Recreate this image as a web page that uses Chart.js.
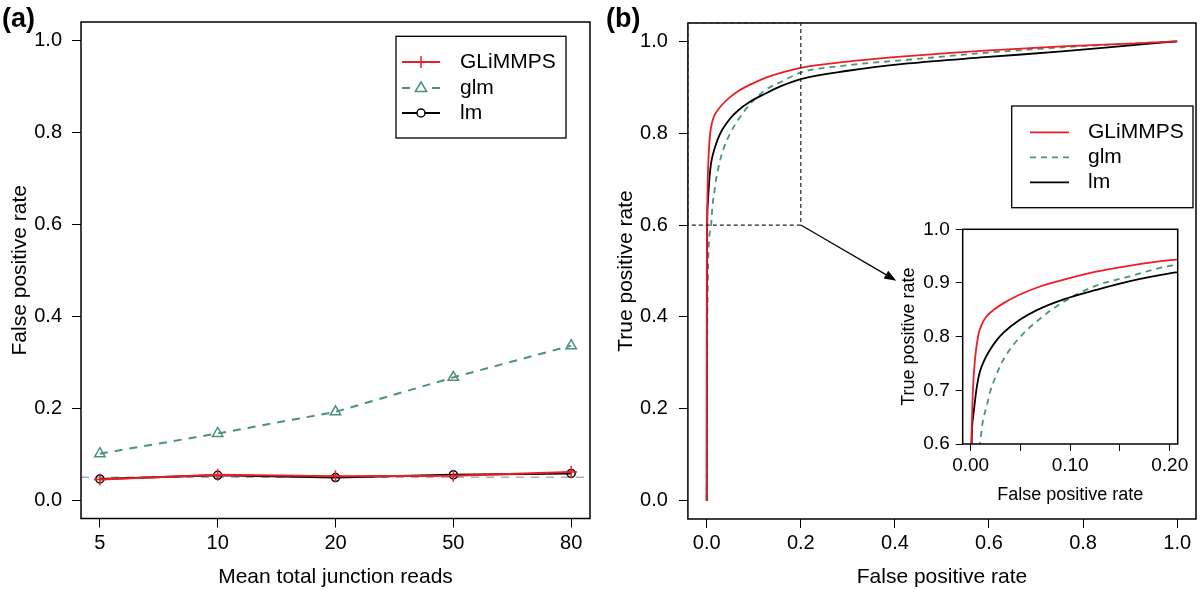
<!DOCTYPE html>
<html>
<head>
<meta charset="utf-8">
<script src="https://cdn.jsdelivr.net/npm/chart.js@4.4.1/dist/chart.umd.min.js"></script>
<style>
body { margin:0; width:1200px; height:590px; background:#fff; overflow:hidden; position:relative; font-family:"Liberation Sans", Arial, sans-serif; }
canvas { position:absolute; }
.panel { position:absolute; z-index:5; font-weight:bold; font-size:27px; line-height:1; color:#000; }
</style>
</head>
<body>
<div class="panel" style="left:2px;top:5px">(a)</div>
<div class="panel" style="left:606px;top:5px">(b)</div>
<canvas id="chart-a" width="600" height="590" style="left:0;top:0"></canvas>
<canvas id="chart-b" width="600" height="590" style="left:600px;top:0"></canvas>
<canvas id="chart-inset" width="320" height="305" style="left:880px;top:205px"></canvas>
<script>

// panel (a): false positive rate by read depth
var readsLabels = ['5', '10', '20', '50', '80'];
var readsPos = [1, 2, 3, 4, 5];
var fprGlimmps = [0.045, 0.055, 0.052, 0.053, 0.061];
var fprGlm = [0.101, 0.145, 0.192, 0.267, 0.336];
var fprLm = [0.046, 0.054, 0.049, 0.055, 0.058];
var nominalLevel = 0.05;

// panel (b): ROC curves (false positive rate, true positive rate)
var rocGlimmpsFpr = [0, 0.0002, 0.0006, 0.002, 0.0043, 0.0077, 0.011, 0.016, 0.024, 0.0327, 0.049, 0.069, 0.0993, 0.126, 0.159, 0.2, 0.3, 0.428, 0.591, 0.755, 0.9, 1.0];
var rocGlimmpsTpr = [0, 0.5, 0.6, 0.69, 0.757, 0.803, 0.822, 0.838, 0.851, 0.862, 0.878, 0.893, 0.909, 0.921, 0.932, 0.9425, 0.956, 0.968, 0.98, 0.989, 0.995, 1.0];
var rocGlmFpr = [0, 0.001, 0.002, 0.004, 0.0093, 0.012, 0.016, 0.02, 0.0247, 0.03, 0.036, 0.049, 0.066, 0.0927, 0.126, 0.159, 0.2, 0.3, 0.428, 0.591, 0.755, 0.9, 1.0];
var rocGlmTpr = [0, 0.35, 0.45, 0.55, 0.6, 0.64, 0.67, 0.7, 0.724, 0.747, 0.767, 0.798, 0.828, 0.864, 0.895, 0.912, 0.932, 0.948, 0.96, 0.975, 0.987, 0.995, 1.0];
var rocLmFpr = [0, 0.0003, 0.001, 0.0025, 0.0043, 0.0065, 0.0093, 0.014, 0.0193, 0.026, 0.0327, 0.049, 0.066, 0.0927, 0.126, 0.159, 0.2, 0.3, 0.428, 0.591, 0.755, 0.918, 1.0];
var rocLmTpr = [0, 0.4, 0.6, 0.65, 0.68, 0.71, 0.735, 0.757, 0.775, 0.793, 0.807, 0.831, 0.849, 0.869, 0.887, 0.903, 0.918, 0.936, 0.952, 0.9655, 0.978, 0.993, 1.0];

var rateTicks = [0, 0.2, 0.4, 0.6, 0.8, 1.0];
var insetFprTicks = [0, 0.05, 0.1, 0.15, 0.2];
var insetFprLabels = ['0.00', '', '0.10', '', '0.20'];
var insetTprTicks = [0.6, 0.7, 0.8, 0.9, 1.0];

// zoom window drawn on (b) and the arrow to the inset
var zoomFpr = [-0.04, 0.2];
var zoomTpr = [0.6, 1.04];
var arrowFrom = [0.2, 0.6];
var arrowTo = [0.403, 0.479];

var RED = '#ee1c24';
var GREEN = '#4a937a';
var FONT = "'Liberation Sans', Arial, sans-serif";

Chart.defaults.font.family = FONT;
Chart.defaults.color = '#000';

function zip(xs, ys) {
	var out = [];
	for (var i = 0; i < xs.length; i++) out.push({x: xs[i], y: ys[i]});
	return out;
}

function fixedTicks(values) {
	return function(axis) {
		axis.ticks = values.map(function(v) { return {value: v}; });
	};
}

function drawMarker(ctx, style, x, y, r, color) {
	ctx.save();
	ctx.strokeStyle = color;
	ctx.fillStyle = '#fff';
	ctx.lineWidth = 1.5;
	ctx.setLineDash([]);
	ctx.beginPath();
	if (style === 'cross') {
		ctx.moveTo(x - r, y); ctx.lineTo(x + r, y);
		ctx.moveTo(x, y - r); ctx.lineTo(x, y + r);
	} else if (style === 'triangle') {
		ctx.moveTo(x, y - r);
		ctx.lineTo(x + r * 0.95, y + r * 0.6);
		ctx.lineTo(x - r * 0.95, y + r * 0.6);
		ctx.closePath();
		ctx.fill();
	} else {
		ctx.arc(x, y, r, 0, Math.PI * 2);
		ctx.fill();
	}
	ctx.stroke();
	ctx.restore();
}

var frameBox = {
	id: 'frameBox',
	afterDatasetsDraw: function(chart) {
		var a = chart.chartArea, ctx = chart.ctx;
		ctx.save();
		ctx.strokeStyle = '#000';
		ctx.lineWidth = 1.5;
		ctx.setLineDash([]);
		ctx.strokeRect(a.left, a.top, a.right - a.left, a.bottom - a.top);
		ctx.restore();
	}
};

// legend box in the style of R's legend(), drawn from the datasets themselves
function boxLegend(box, order) {
	return {
		id: 'boxLegend',
		afterDraw: function(chart) {
			var ctx = chart.ctx;
			ctx.save();
			ctx.fillStyle = '#fff';
			ctx.fillRect(box.left, box.top, box.right - box.left, box.bottom - box.top);
			ctx.strokeStyle = '#000';
			ctx.lineWidth = 1.3;
			ctx.strokeRect(box.left, box.top, box.right - box.left, box.bottom - box.top);
			for (var k = 0; k < order.length; k++) {
				var ds = chart.data.datasets[order[k]];
				var y = box.rows[k];
				ctx.strokeStyle = ds.borderColor;
				ctx.lineWidth = ds.borderWidth;
				ctx.setLineDash(ds.borderDash || []);
				ctx.beginPath();
				ctx.moveTo(box.lineFrom, y);
				ctx.lineTo(box.lineTo, y);
				ctx.stroke();
				ctx.setLineDash([]);
				if (ds.pointRadius) {
					drawMarker(ctx, ds.pointStyle, (box.lineFrom + box.lineTo) / 2, y, ds.pointRadius, ds.borderColor);
				}
				ctx.fillStyle = '#000';
				ctx.font = '21px ' + FONT;
				ctx.textBaseline = 'middle';
				ctx.textAlign = 'left';
				ctx.fillText(ds.label, box.textX, y);
			}
			ctx.restore();
		}
	};
}

var zoomMarks = {
	id: 'zoomMarks',
	afterDatasetsDraw: function(chart) {
		var xs = chart.scales.x, ys = chart.scales.y, ctx = chart.ctx;
		var x0 = xs.getPixelForValue(zoomFpr[0]), x1 = xs.getPixelForValue(zoomFpr[1]);
		var y0 = ys.getPixelForValue(zoomTpr[0]), y1 = ys.getPixelForValue(zoomTpr[1]);
		ctx.save();
		ctx.strokeStyle = '#222';
		ctx.lineWidth = 1.2;
		ctx.setLineDash([4, 3]);
		ctx.strokeRect(x0, y1, x1 - x0, y0 - y1);
		ctx.setLineDash([]);
		var ax = xs.getPixelForValue(arrowFrom[0]), ay = ys.getPixelForValue(arrowFrom[1]);
		var bx = xs.getPixelForValue(arrowTo[0]), by = ys.getPixelForValue(arrowTo[1]);
		var ang = Math.atan2(by - ay, bx - ax);
		ctx.strokeStyle = '#000';
		ctx.fillStyle = '#000';
		ctx.lineWidth = 1.2;
		ctx.beginPath();
		ctx.moveTo(ax, ay);
		ctx.lineTo(bx - 8 * Math.cos(ang), by - 8 * Math.sin(ang));
		ctx.stroke();
		ctx.beginPath();
		ctx.moveTo(bx, by);
		ctx.lineTo(bx - 12 * Math.cos(ang) + 4.5 * Math.sin(ang), by - 12 * Math.sin(ang) - 4.5 * Math.cos(ang));
		ctx.lineTo(bx - 12 * Math.cos(ang) - 4.5 * Math.sin(ang), by - 12 * Math.sin(ang) + 4.5 * Math.cos(ang));
		ctx.closePath();
		ctx.fill();
		ctx.restore();
	}
};

function axisGrid(len) {
	return { drawOnChartArea: false, drawTicks: true, tickLength: len, color: '#000', tickColor: '#000', lineWidth: 1 };
}

function rateAxis(opts) {
	return {
		type: 'linear',
		min: opts.min, max: opts.max,
		afterBuildTicks: fixedTicks(opts.ticks),
		afterFit: function(axis) {
			if (axis.isHorizontal()) axis.height = opts.size; else axis.width = opts.size;
		},
		grid: axisGrid(opts.tickLength),
		border: { display: false },
		ticks: {
			autoSkip: false, maxRotation: 0, minRotation: 0,
			padding: opts.padding,
			font: { size: opts.tickFont },
			color: '#000',
			callback: opts.labels
		},
		title: {
			display: true, text: opts.title, color: '#000',
			font: { size: opts.titleFont },
			padding: opts.titlePadding
		}
	};
}

function fixed1(v) { return v.toFixed(1); }

// ---------- panel (a) ----------
new Chart('chart-a', {
	type: 'line',
	data: {
		datasets: [{
			label: 'GLiMMPS',
			data: zip(readsPos, fprGlimmps),
			borderColor: RED, backgroundColor: RED,
			borderWidth: 2, pointStyle: 'cross', pointRadius: 6,
			pointBorderWidth: 1.5, order: 1
		}, {
			label: 'glm',
			data: zip(readsPos, fprGlm),
			borderColor: GREEN, backgroundColor: 'rgba(0,0,0,0)',
			borderWidth: 2, borderDash: [8, 7], pointStyle: 'triangle', pointRadius: 6,
			pointBorderWidth: 1.5, order: 3
		}, {
			label: 'lm',
			data: zip(readsPos, fprLm),
			borderColor: '#000', backgroundColor: 'rgba(0,0,0,0)',
			borderWidth: 2, pointStyle: 'circle', pointRadius: 4,
			pointBorderWidth: 1.5, order: 2
		}, {
			label: 'nominal',
			data: [{x: 0.84, y: nominalLevel}, {x: 5.16, y: nominalLevel}],
			borderColor: '#b0b0b0', borderWidth: 1.5, borderDash: [8, 7],
			pointRadius: 0, order: 4
		}]
	},
	options: {
		responsive: false,
		animation: false,
		layout: { padding: { top: 18.3, right: 10, bottom: 0, left: 0 } },
		plugins: { legend: { display: false }, tooltip: { enabled: false } },
		scales: {
			x: rateAxis({
				min: 0.84, max: 5.16, ticks: readsPos, size: 71.5, tickLength: 9, padding: 3.5,
				tickFont: 20, labels: function(v, i) { return readsLabels[i]; },
				title: 'Mean total junction reads', titleFont: 21, titlePadding: { top: 0, bottom: 0.4 }
			}),
			y: rateAxis({
				min: -0.04, max: 1.04, ticks: rateTicks, size: 81, tickLength: 9, padding: 10,
				tickFont: 20, labels: fixed1,
				title: 'False positive rate', titleFont: 21, titlePadding: { top: 7.4, bottom: 0 }
			})
		}
	},
	plugins: [frameBox, boxLegend({
		left: 396, top: 36.3, right: 566, bottom: 138,
		rows: [62, 88, 113], lineFrom: 402, lineTo: 440, textX: 460
	}, [0, 1, 2])]
});

// ---------- panel (b) ----------
function rocSets(width) {
	return [{
		label: 'GLiMMPS',
		data: zip(rocGlimmpsFpr, rocGlimmpsTpr),
		borderColor: RED, borderWidth: width, pointRadius: 0,
		cubicInterpolationMode: 'monotone', order: 1
	}, {
		label: 'glm',
		data: zip(rocGlmFpr, rocGlmTpr),
		borderColor: GREEN, borderWidth: width, borderDash: [6, 5], pointRadius: 0,
		cubicInterpolationMode: 'monotone', order: 3
	}, {
		label: 'lm',
		data: zip(rocLmFpr, rocLmTpr),
		borderColor: '#000', borderWidth: width, pointRadius: 0,
		cubicInterpolationMode: 'monotone', order: 2
	}];
}

new Chart('chart-b', {
	type: 'line',
	data: { datasets: rocSets(1.8) },
	options: {
		responsive: false,
		animation: false,
		layout: { padding: { top: 18.3, right: 4, bottom: 0, left: 0 } },
		plugins: { legend: { display: false }, tooltip: { enabled: false } },
		scales: {
			x: rateAxis({
				min: -0.04, max: 1.04, ticks: rateTicks, size: 71, tickLength: 9, padding: 3.5,
				tickFont: 20, labels: fixed1,
				title: 'False positive rate', titleFont: 21, titlePadding: { top: 0, bottom: 0.4 }
			}),
			y: rateAxis({
				min: -0.04, max: 1.04, ticks: rateTicks, size: 87.9, tickLength: 9, padding: 11,
				tickFont: 20, labels: fixed1,
				title: 'True positive rate', titleFont: 21, titlePadding: { top: 13.4, bottom: 0 }
			})
		}
	},
	plugins: [frameBox, zoomMarks, boxLegend({
		left: 411.7, top: 106, right: 593, bottom: 207.7,
		rows: [132.3, 157.3, 182.3], lineFrom: 430, lineTo: 469, textX: 488
	}, [0, 1, 2])]
});

// ---------- inset: zoom of the ROC ----------
new Chart('chart-inset', {
	type: 'line',
	data: { datasets: rocSets(1.8) },
	options: {
		responsive: false,
		animation: false,
		layout: { padding: { top: 24.3, right: 22.3, bottom: 0, left: 0 } },
		plugins: { legend: { display: false }, tooltip: { enabled: false } },
		scales: {
			x: rateAxis({
				min: -0.008, max: 0.208, ticks: insetFprTicks, size: 66, tickLength: 7, padding: 3,
				tickFont: 19, labels: function(v, i) { return insetFprLabels[i]; },
				title: 'False positive rate', titleFont: 18, titlePadding: { top: 0, bottom: 4.2 }
			}),
			y: rateAxis({
				min: 0.6, max: 1.0, ticks: insetTprTicks, size: 82.7, tickLength: 7, padding: 6,
				tickFont: 19, labels: fixed1,
				title: 'True positive rate', titleFont: 18, titlePadding: { top: 18.2, bottom: 0 }
			})
		}
	},
	plugins: [frameBox]
});

</script>
</body>
</html>
